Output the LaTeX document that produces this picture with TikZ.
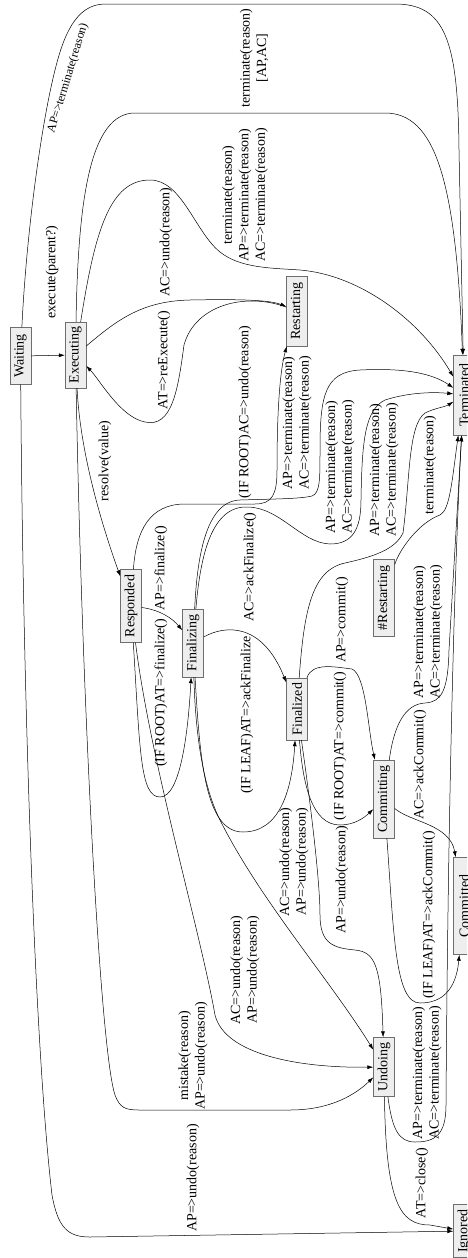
\documentclass[tikz,border=0pt]{standalone}
\usepackage{fontspec}
\setmainfont{Liberation Serif}
\usetikzlibrary{arrows.meta}
\definecolor{statefill}{HTML}{EEEEEE}
\definecolor{stateline}{HTML}{6E6E6E}
\begin{document}
\begin{tikzpicture}[x=1pt,y=-1pt]

  \tikzstyle{state}=[draw=stateline,fill=statefill,rotate=90,minimum height=21pt,inner sep=2pt,font=\fontsize{14}{16.5}\selectfont]
  \tikzstyle{lbl}=[rotate=90,align=center,inner sep=0pt,font=\fontsize{14}{16.5}\selectfont]
  \tikzstyle{trans}=[-{Latex[length=6pt,width=4pt]},line width=0.5pt]

  \useasboundingbox (0,0) rectangle (467,1258);
  \clip (0,0) rectangle (467,1258);

  \path
  (20.5,356) node[state,minimum width=57pt](waiting){Waiting}
  (75.5,355) node[state,minimum width=66pt](executing){Executing}
  (297,311) node[state,minimum width=70pt](restarting){Restarting}
  (464,395) node[state,minimum width=80pt](terminated){Terminated};

  \path
  (131,606) node[state,minimum width=73pt](responded){Responded}
  (193,643) node[state,minimum width=68pt](finalizing){Finalizing}
  (297,709) node[state,minimum width=62pt](finalized){Finalized}
  (384,598) node[state,minimum width=77pt](hrestarting){\#Restarting};

  \path
  (384,799) node[state,minimum width=78pt](committing){Committing}
  (464,906) node[state,minimum width=97pt](committed){Committed}
  (384,1067) node[state,minimum width=59pt](undoing){Undoing}
  (464,1231) node[state,minimum width=53pt](ignored){Ignored};

  \path
  (52,272) node[lbl](l1){execute(parent?)}
  (68,78) node[lbl,rotate=-17,font=\fontsize{12}{14}\selectfont](l2){AP=>terminate(reason)}
  (193,1178) node[lbl](l3){AP=>undo(reason)}
  (254,58) node[lbl](l4){terminate(reason)\\{}[AP,AC]}
  (245,195) node[lbl](l5){terminate(reason)\\AP=>terminate(reason)\\AC=>terminate(reason)}
  (166,242) node[lbl](l6){AC=>undo(reason)}
  (164,360) node[lbl](l7){AT=>reExecute()}
  (105,461) node[lbl](l8){resolve(value)}
  (193,1056) node[lbl](l9){mistake(reason)\\AP=>undo(reason)};

  \path
  (161,568) node[lbl](l10){AP=>finalize()}
  (161,693) node[lbl](l11){(IF ROOT)AT=>finalize()}
  (245,970) node[lbl](l12){AC=>undo(reason)\\AP=>undo(reason)}
  (294,862) node[lbl](l13){AC=>undo(reason)\\AP=>undo(reason)}
  (250,567) node[lbl](l14){AC=>ackFinalize()}
  (247,715) node[lbl](l15){(IF LEAF)AT=>ackFinalize}
  (245,412) node[lbl](l16){(IF ROOT)AC=>undo(reason)}
  (297,423) node[lbl](l17){AP=>terminate(reason)\\AC=>terminate(reason)}
  (340,467) node[lbl](l18){AP=>terminate(reason)\\AC=>terminate(reason)}
  (384,470) node[lbl](l19){AP=>terminate(reason)\\AC=>terminate(reason)};

  \path
  (430,465) node[lbl](l20){terminate(reason)}
  (342,620) node[lbl](l21){AP=>commit()}
  (340,746) node[lbl](l22){(IF ROOT)AT=>commit()}
  (342,880) node[lbl](l23){AP=>undo(reason)}
  (428,632) node[lbl](l24){AP=>terminate(reason)\\AC=>terminate(reason)}
  (420,765) node[lbl](l25){AC=>ackCommit()}
  (429,915) node[lbl](l26){(IF LEAF)AT=>ackCommit()}
  (427,1073) node[lbl](l27){AP=>terminate(reason)\\AC=>terminate(reason)}
  (422,1183) node[lbl](l28){AT=>close()};

  \draw[trans] (waiting)--(executing);
  \draw[trans] (waiting) .. controls (26,240) and (40,130) .. (55,70) .. controls (63,38) and (75,4) .. (105,4) -- (395,4) .. controls (445,4) and (458,40) .. (459,150) -- (terminated);
  \draw[trans] (waiting) .. controls (23,700) and (35,1050) .. (52,1195) .. controls (58,1228) and (68,1237) .. (90,1237) -- (ignored);

  \draw[trans] (executing) .. controls (78,200) and (90,113) .. (135,113) -- (385,113) .. controls (435,113) and (456,180) .. (terminated);
  \draw[trans] (executing) .. controls (95,230) and (110,180) .. (150,180) .. controls (182,180) and (195,232) .. (220,252) .. controls (240,268) and (270,268) .. (300,270) .. controls (360,275) and (420,320) .. (terminated);
  \draw[trans] (executing) .. controls (115,322) and (140,301) .. (190,300) .. controls (240,299) and (270,300) .. (restarting);
  \draw[trans] (restarting) .. controls (245,292) and (195,305) .. (184,345) .. controls (178,390) and (172,428) .. (145,422) .. controls (120,417) and (100,380) .. (executing);
  \draw[trans] (executing) .. controls (80,450) and (100,520) .. (responded);
  \draw[trans] (executing) .. controls (82,700) and (100,1050) .. (115,1095) .. controls (120,1108) and (125,1110) .. (140,1110) -- (290,1110) .. controls (330,1110) and (355,1095) .. (undoing);

  \draw[trans] (responded) .. controls (160,610) and (172,618) .. (finalizing);
  \draw[trans] (responded) .. controls (140,750) and (140,797) .. (160,797) .. controls (180,797) and (188,735) .. (finalizing);
  \draw[trans] (responded) .. controls (150,760) and (200,930) .. (215,1015) .. controls (225,1055) and (300,1068) .. (undoing);
  \draw[trans] (responded) .. controls (136,530) and (150,504) .. (185,504) -- (255,504) .. controls (272,504) and (277,495) .. (277,470) .. controls (277,410) and (280,370) .. (restarting);

  \draw[trans] (finalizing) .. controls (225,625) and (262,622) .. (finalized);
  \draw[trans] (finalizing) .. controls (200,760) and (205,832) .. (243,832) .. controls (280,832) and (292,790) .. (finalized);
  \draw[trans] (finalizing) .. controls (195,720) and (200,780) .. (220,820) .. controls (260,900) and (330,980) .. (undoing);
  \draw[trans] (finalizing) .. controls (197,560) and (205,501) .. (240,500) .. controls (270,499) and (300,499) .. (312,496) .. controls (320,493) and (320,480) .. (320,450) .. controls (320,395) and (325,372) .. (360,370) .. controls (400,368) and (430,372) .. (terminated);
  \draw[trans] (finalizing) .. controls (200,560) and (210,508) .. (245,507) .. controls (280,506) and (300,543) .. (330,544) .. controls (352,544) and (361,530) .. (361,500) .. controls (362,440) and (365,410) .. (385,400) .. controls (410,392) and (435,392) .. (terminated);

  \draw[trans] (finalized) .. controls (304,610) and (312,570) .. (345,563) .. controls (372,557) and (395,550) .. (403,533) .. controls (410,480) and (408,425) .. (425,413) .. controls (435,408) and (445,407) .. (terminated);
  \draw[trans] (finalized) .. controls (312,662) and (335,667) .. (352,669) .. controls (366,675) and (368,730) .. (committing);
  \draw[trans] (finalized) .. controls (303,785) and (312,825) .. (340,825) .. controls (355,825) and (365,817) .. (committing);
  \draw[trans] (finalized) .. controls (310,800) and (320,880) .. (320,915) .. controls (320,945) and (335,948) .. (355,950) .. controls (375,952) and (381,965) .. (undoing);

  \draw[trans] (hrestarting) .. controls (400,548) and (420,522) .. (440,515) .. controls (450,510) and (452,480) .. (terminated);

  \draw[trans] (committing) .. controls (394,725) and (405,704) .. (425,703) .. controls (442,702) and (448,690) .. (449,650) -- (terminated);
  \draw[trans] (committing) .. controls (410,822) and (450,824) .. (committed);
  \draw[trans] (committing) .. controls (394,935) and (395,1003) .. (420,1003) .. controls (442,1003) and (456,990) .. (committed);

  \draw[trans] (undoing) .. controls (386,1203) and (400,1225) .. (430,1225) -- (ignored);
  \draw[trans] (undoing) .. controls (392,1128) and (398,1142) .. (415,1142) .. controls (435,1142) and (446,1135) .. (446,1105) .. controls (448,800) and (455,550) .. (terminated);
\end{tikzpicture}
\end{document}
